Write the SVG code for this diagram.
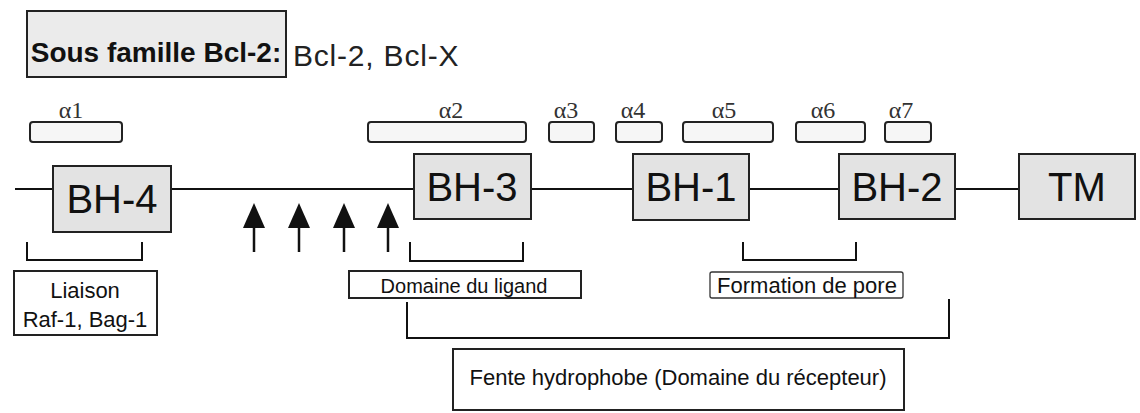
<svg xmlns="http://www.w3.org/2000/svg" width="1140" height="413" viewBox="0 0 1140 413">
  <defs>
    <marker id="ah" viewBox="0 0 25 22" refX="0" refY="11" markerWidth="25" markerHeight="22" markerUnits="userSpaceOnUse" orient="auto">
      <path d="M0,0 L25,11 L0,22 z" fill="#111"/>
    </marker>
  </defs>
  <style>
    .bh { fill: #e3e3e3; stroke: #222; stroke-width: 2; }
    .bht { font-family: "Liberation Sans", Arial, sans-serif; font-size: 40px; fill: #111; text-anchor: middle; }
    .hx { fill: #f6f6f6; stroke: #222; stroke-width: 2; }
    .al { font-family: "Liberation Serif", "Times New Roman", serif; font-size: 24px; fill: #333; text-anchor: middle; }
    .lb { fill: #fff; stroke: #222; stroke-width: 2; }
    .lt { font-family: "Liberation Sans", Arial, sans-serif; fill: #111; text-anchor: middle; }
    .ln { fill: none; stroke: #111; stroke-width: 2; }
  </style>
  <rect width="1140" height="413" fill="#fff"/>

  <g id="title">
    <rect x="27" y="11" width="259" height="66" fill="#ebebeb" stroke="#222" stroke-width="2"/>
    <text x="156" y="62" class="lt" font-size="28" font-weight="bold">Sous famille Bcl-2:</text>
    <text x="293" y="66" font-family="'Liberation Sans', Arial, sans-serif" font-size="30" fill="#222" letter-spacing="0.8">Bcl-2, Bcl-X</text>
  </g>

  <g id="helices">
    <g id="a1"><text x="71" y="118" class="al">α1</text><rect x="30" y="122" width="92" height="20" rx="3" class="hx"/></g>
    <g id="a2"><text x="451" y="118" class="al">α2</text><rect x="368" y="122" width="158" height="20" rx="3" class="hx"/></g>
    <g id="a3"><text x="566" y="118" class="al">α3</text><rect x="549" y="122" width="45" height="20" rx="3" class="hx"/></g>
    <g id="a4"><text x="633" y="118" class="al">α4</text><rect x="616" y="122" width="46" height="20" rx="3" class="hx"/></g>
    <g id="a5"><text x="724" y="118" class="al">α5</text><rect x="683" y="122" width="90" height="20" rx="3" class="hx"/></g>
    <g id="a6"><text x="823" y="118" class="al">α6</text><rect x="796" y="122" width="69" height="20" rx="3" class="hx"/></g>
    <g id="a7"><text x="901" y="118" class="al">α7</text><rect x="885" y="122" width="46" height="20" rx="3" class="hx"/></g>
  </g>

  <g id="connectors">
    <line x1="15" y1="189" x2="53" y2="189" class="ln"/>
    <line x1="171" y1="189" x2="414" y2="189" class="ln"/>
    <line x1="531" y1="189" x2="633" y2="189" class="ln"/>
    <line x1="749" y1="189" x2="839" y2="189" class="ln"/>
    <line x1="955" y1="189" x2="1019" y2="189" class="ln"/>
    <line x1="254" y1="252" x2="254" y2="228" stroke="#111" stroke-width="2.5" marker-end="url(#ah)"/>
    <line x1="299" y1="252" x2="299" y2="228" stroke="#111" stroke-width="2.5" marker-end="url(#ah)"/>
    <line x1="344" y1="252" x2="344" y2="228" stroke="#111" stroke-width="2.5" marker-end="url(#ah)"/>
    <line x1="388" y1="252" x2="388" y2="228" stroke="#111" stroke-width="2.5" marker-end="url(#ah)"/>
    <path d="M27,242 V260 H142 V242" class="ln"/>
    <path d="M410,242 V261 H523 V242" class="ln"/>
    <path d="M743,242 V260 H856 V242" class="ln"/>
    <path d="M407,302 V338 H949 V299" class="ln"/>
  </g>

  <g id="bh4"><rect x="53" y="166" width="118" height="66" class="bh"/><text x="112" y="213" class="bht">BH-4</text></g>
  <g id="bh3"><rect x="414" y="154" width="117" height="65" class="bh"/><text x="472" y="201" class="bht">BH-3</text></g>
  <g id="bh1"><rect x="633" y="154" width="116" height="66" class="bh"/><text x="691" y="201" class="bht">BH-1</text></g>
  <g id="bh2"><rect x="839" y="154" width="116" height="65" class="bh"/><text x="897" y="201" class="bht">BH-2</text></g>
  <g id="tm"><rect x="1019" y="154" width="116" height="65" class="bh"/><text x="1077" y="201" class="bht">TM</text></g>

  <g id="liaison">
    <rect x="14" y="271" width="143" height="64" class="lb"/>
    <text x="85" y="298" class="lt" font-size="22">Liaison</text>
    <text x="85" y="327" class="lt" font-size="22">Raf-1, Bag-1</text>
  </g>
  <g id="ligand">
    <rect x="349" y="271" width="232" height="27" class="lb"/>
    <text x="464" y="293" class="lt" font-size="20">Domaine du ligand</text>
  </g>
  <g id="pore">
    <rect x="710" y="272" width="193" height="26" rx="2" fill="#fff" stroke="#333" stroke-width="1.3"/>
    <text x="807" y="293" class="lt" font-size="22">Formation de pore</text>
  </g>
  <g id="fente">
    <rect x="453" y="349" width="451" height="61" class="lb"/>
    <text x="678" y="385" class="lt" font-size="22">Fente hydrophobe (Domaine du récepteur)</text>
  </g>
</svg>
